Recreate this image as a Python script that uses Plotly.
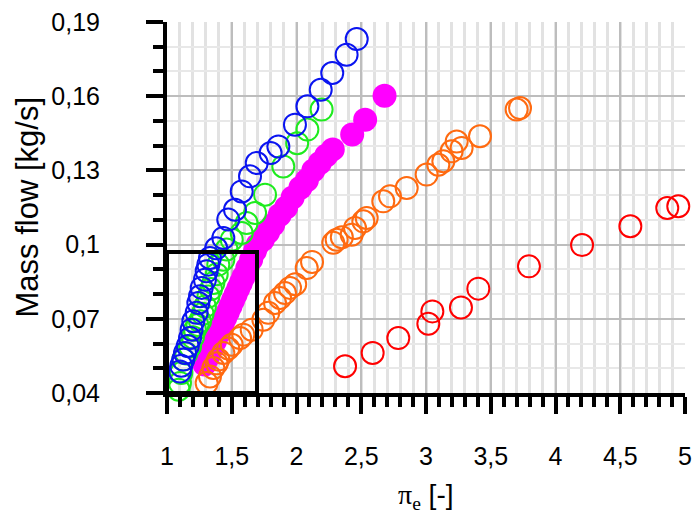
import plotly.graph_objects as go

# Measured series: pressure ratio pi_e [-] vs. mass flow [kg/s]
blue_x = [1.10, 1.11, 1.126, 1.139, 1.16, 1.178, 1.19, 1.203, 1.229, 1.242, 1.255, 1.268,
          1.293, 1.306, 1.319, 1.332, 1.38, 1.435, 1.473, 1.525, 1.577, 1.641, 1.693, 1.80,
          1.860, 1.988, 2.084, 2.187, 2.276, 2.387, 2.465]
blue_y = [0.0487, 0.051, 0.0535, 0.0562, 0.059, 0.0622, 0.0656, 0.069, 0.0724, 0.0764, 0.0791,
          0.0825, 0.0858, 0.0892, 0.0919, 0.0946, 0.0985, 0.1027, 0.1101, 0.1141, 0.1215,
          0.1276, 0.1330, 0.1370, 0.1397, 0.1485, 0.1559, 0.1626, 0.1694, 0.1768, 0.1831]

green_x = [1.09, 1.10, 1.11, 1.126, 1.15, 1.178, 1.20, 1.216, 1.235, 1.255, 1.275, 1.293, 1.32,
           1.34, 1.358, 1.384, 1.396, 1.435, 1.46, 1.50, 1.577, 1.615, 1.680, 1.757, 1.898,
           2.005, 2.084, 2.194]
green_y = [0.0413, 0.0440, 0.0481, 0.0535, 0.0560, 0.0588, 0.0625, 0.0656, 0.0675, 0.0690,
           0.0720, 0.0750, 0.0790, 0.0820, 0.0845, 0.0880, 0.0919, 0.0939, 0.0980, 0.1020,
           0.1047, 0.1087, 0.1128, 0.1202, 0.1316, 0.1410, 0.1465, 0.1546]

magenta_x = [1.29, 1.31, 1.33, 1.35, 1.37, 1.39, 1.41, 1.43, 1.45, 1.47, 1.49, 1.51, 1.53, 1.55,
             1.57, 1.59, 1.62, 1.65, 1.68, 1.70, 1.74, 1.78, 1.82, 1.87, 1.92, 1.97, 2.03,
             2.08, 2.13, 2.18, 2.23, 2.28, 2.43, 2.53, 2.68]
magenta_y = [0.0515, 0.0539, 0.0562, 0.0586, 0.0609, 0.0633, 0.0657, 0.0680, 0.0704, 0.0727,
             0.0751, 0.0775, 0.0798, 0.0822, 0.0845, 0.0869, 0.0904, 0.0940, 0.0975, 0.0999,
             0.1020, 0.1050, 0.1080, 0.1120, 0.1150, 0.1190, 0.1230, 0.1260, 0.1300, 0.1330,
             0.1360, 0.1385, 0.1445, 0.1505, 0.1602]

orange_x = [1.306, 1.332, 1.358, 1.384, 1.396, 1.435, 1.473, 1.50, 1.564, 1.589, 1.654, 1.744,
            1.782, 1.834, 1.873, 1.911, 1.950, 1.99, 2.079, 2.12, 2.284, 2.310, 2.35, 2.426,
            2.452, 2.516, 2.542, 2.670, 2.722, 2.851, 3.005, 3.095, 3.134, 3.198, 3.237, 3.275,
            3.417, 3.700, 3.726]
orange_y = [0.0440, 0.0467, 0.0501, 0.0520, 0.0535, 0.0562, 0.0580, 0.0595, 0.0622, 0.0636,
            0.0656, 0.0696, 0.0724, 0.0764, 0.0784, 0.0804, 0.0825, 0.0840, 0.0905, 0.0930,
            0.1007, 0.1020, 0.1030, 0.1040, 0.1067, 0.1094, 0.1108, 0.1175, 0.1195, 0.1229,
            0.1283, 0.1323, 0.1337, 0.1377, 0.1417, 0.1391, 0.1438, 0.1546, 0.1552]

red_x = [2.375, 2.588, 2.786, 3.018, 3.049, 3.270, 3.404, 3.795, 4.205, 4.578, 4.863, 4.948]
red_y = [0.0508, 0.0562, 0.0622, 0.0680, 0.0730, 0.0746, 0.0822, 0.0912, 0.0998, 0.1074,
         0.1148, 0.1155]

x_ticks = [1, 1.5, 2, 2.5, 3, 3.5, 4, 4.5, 5]
x_tick_text = ["1", "1,5", "2", "2,5", "3", "3,5", "4", "4,5", "5"]
y_ticks = [0.04, 0.07, 0.10, 0.13, 0.16, 0.19]
y_tick_text = ["0,04", "0,07", "0,1", "0,13", "0,16", "0,19"]

# highlighted low-ratio region
box_x = [1.0, 1.695]
box_y = [0.04, 0.097]

FONT = "Liberation Sans, Arial, sans-serif"

fig = go.Figure()


def open_series(x, y, color):
    fig.add_trace(go.Scatter(
        x=x, y=y, mode="markers", cliponaxis=False, showlegend=False,
        marker=dict(symbol="circle-open", size=22, color=color, line=dict(width=2, color=color)),
    ))


fig.add_trace(go.Scatter(
    x=magenta_x, y=magenta_y, mode="markers", cliponaxis=False, showlegend=False,
    marker=dict(symbol="circle", size=24, color="#FF00FF", line=dict(width=0)),
))
open_series(red_x, red_y, "#FF0000")
open_series(orange_x, orange_y, "#FF6A10")
open_series(green_x, green_y, "#1EEB1E")
open_series(blue_x, blue_y, "#0A14F0")

fig.add_shape(type="rect", xref="x", yref="y",
              x0=box_x[0], x1=box_x[1], y0=box_y[0], y1=box_y[1],
              line=dict(color="black", width=4), layer="above")

axis_common = dict(
    showline=True, linecolor="black", linewidth=4, mirror=False,
    ticks="outside", ticklen=17, tickwidth=4, tickcolor="black",
    showgrid=True, gridcolor="#BDBDBD", gridwidth=2, zeroline=False,
    tickfont=dict(family=FONT, size=25, color="black"),
    tickmode="array", automargin=False,
)

fig.update_xaxes(
    **axis_common, range=[1, 5], tickvals=x_ticks, ticktext=x_tick_text,
    ticklabelstandoff=21,
    minor=dict(tick0=1, dtick=0.1, ticks="outside", ticklen=10, tickwidth=4, tickcolor="black",
               showgrid=True, gridcolor="#E2E2E2", gridwidth=3),
)
fig.update_yaxes(
    **axis_common, range=[0.04, 0.19], tickvals=y_ticks, ticktext=y_tick_text,
    ticklabelstandoff=41,
    minor=dict(tick0=0.04, dtick=0.01, ticks="outside", ticklen=10, tickwidth=4, tickcolor="black",
               showgrid=True, gridcolor="#E8E8E8", gridwidth=2),
)

fig.add_annotation(
    xref="paper", yref="paper", x=0.5, y=0, yanchor="middle", xanchor="center",
    yshift=-103, showarrow=False,
    text="<span style='font-family:Liberation Serif, Times New Roman, serif'>π<sub>e</sub></span> [-]",
    font=dict(family=FONT, size=28, color="black"),
)
fig.add_annotation(
    xref="paper", yref="paper", x=0, y=0.5, xanchor="center", yanchor="middle",
    xshift=-140, textangle=-90, showarrow=False,
    text="Mass flow [kg/s]",
    font=dict(family=FONT, size=31, color="black"),
)

fig.update_layout(
    width=695, height=516,
    margin=dict(l=167, r=10, t=22, b=123, autoexpand=False),
    paper_bgcolor="white", plot_bgcolor="white",
    showlegend=False,
)

fig.write_html("out.html")
